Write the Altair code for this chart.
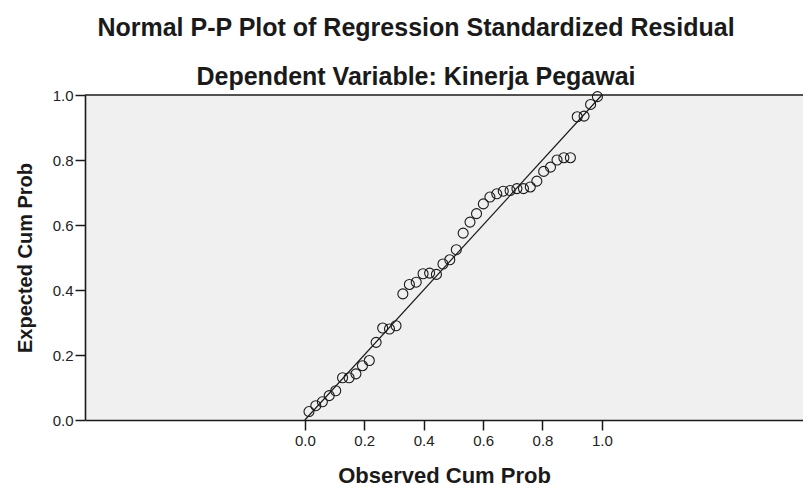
import altair as alt
import pandas as pd

# Observed cumulative probability (x) and expected cumulative probability (y)
observed = [0.014, 0.037, 0.059, 0.082, 0.104, 0.127, 0.149, 0.172, 0.194, 0.217,
            0.240, 0.262, 0.285, 0.307, 0.330, 0.352, 0.375, 0.398, 0.420, 0.443,
            0.465, 0.488, 0.510, 0.533, 0.556, 0.578, 0.601, 0.623, 0.646, 0.668,
            0.691, 0.714, 0.736, 0.759, 0.781, 0.804, 0.827, 0.849, 0.872, 0.894,
            0.917, 0.940, 0.962, 0.985]
expected = [0.026, 0.044, 0.056, 0.075, 0.090, 0.130, 0.130, 0.142, 0.167, 0.183,
            0.239, 0.283, 0.280, 0.290, 0.388, 0.417, 0.424, 0.450, 0.452, 0.448,
            0.480, 0.493, 0.524, 0.575, 0.609, 0.635, 0.665, 0.686, 0.696, 0.704,
            0.706, 0.712, 0.712, 0.717, 0.735, 0.765, 0.778, 0.800, 0.807, 0.807,
            0.933, 0.935, 0.971, 0.995]

ref_observed = [0.0, 1.0]
ref_expected = [0.0, 1.0]
top_border = [1.0]

x_ticks = [0.0, 0.2, 0.4, 0.6, 0.8, 1.0]
y_ticks = [0.0, 0.2, 0.4, 0.6, 0.8, 1.0]

FONT = "Liberation Sans"
INK = "#1a1a1a"

points_df = pd.DataFrame({"observed": observed, "expected": expected})
line_df = pd.DataFrame({"observed": ref_observed, "expected": ref_expected})
top_df = pd.DataFrame({"expected": top_border})

xs = alt.Scale(domain=[-0.74, 1.677], nice=False, zero=False)
ys = alt.Scale(domain=[0.0, 1.0], nice=False, zero=False)

xaxis = alt.Axis(values=x_ticks, format=".1f", title="Observed Cum Prob", grid=False,
                 domainColor=INK, domainWidth=1.6, tickColor=INK, tickWidth=1.5, tickSize=10,
                 labelFont=FONT, labelFontSize=15, labelColor="#222", labelPadding=3,
                 titleFont=FONT, titleFontSize=22, titleFontWeight="bold", titleColor=INK,
                 titlePadding=17)
yaxis = alt.Axis(values=y_ticks, format=".1f", title="Expected Cum Prob", grid=False,
                 domainColor=INK, domainWidth=1.6, tickColor=INK, tickWidth=1.5, tickSize=10,
                 labelFont=FONT, labelFontSize=15, labelColor="#222", labelPadding=2,
                 titleFont=FONT, titleFontSize=20, titleFontWeight="bold", titleColor=INK,
                 titlePadding=17)

X = alt.X("observed:Q", scale=xs, axis=xaxis)
Y = alt.Y("expected:Q", scale=ys, axis=yaxis)

top = alt.Chart(top_df).mark_rule(color=INK, strokeWidth=1.6).encode(y=Y)
line = alt.Chart(line_df).mark_line(color=INK, strokeWidth=1.2).encode(x=X, y=Y)
pts = alt.Chart(points_df).mark_point(shape="circle", filled=False, size=100, color=INK,
                                      strokeWidth=1.1, opacity=1).encode(x=X, y=Y)

chart = alt.layer(top, line, pts).properties(
    width=718, height=325,
    padding={"left": 77, "top": 87, "right": 0, "bottom": 66},
    autosize=alt.AutoSizeParams(type="none"),
    title=alt.TitleParams(
        text="Normal P-P Plot of Regression Standardized Residual",
        subtitle="Dependent Variable: Kinerja Pegawai",
        font=FONT, fontSize=25, fontWeight="bold", color=INK,
        subtitleFont=FONT, subtitleFontSize=25, subtitleFontWeight="bold", subtitleColor=INK,
        subtitlePadding=24, offset=-2, anchor="middle", dx=-28,
    ),
).configure_view(fill="#f0f0f0", stroke="transparent")

chart.save("out.html", embed_options={"renderer": "svg", "actions": False})
